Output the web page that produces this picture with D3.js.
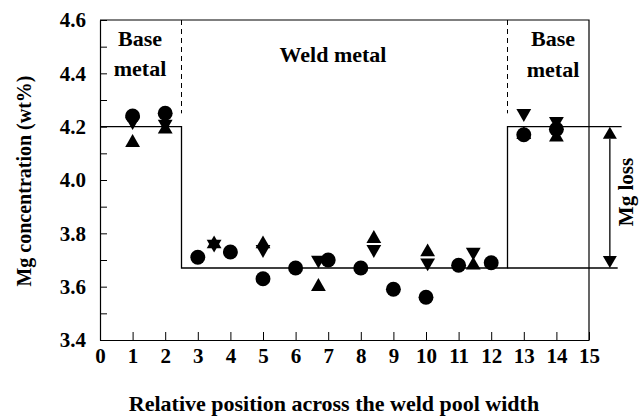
<!DOCTYPE html>
<html>
<head>
<meta charset="utf-8">
<script src="https://cdn.jsdelivr.net/npm/d3@7/dist/d3.min.js"></script>
<style>
  html, body { margin: 0; padding: 0; background: #fff; }
  svg text { font-family: "Liberation Serif", "Times New Roman", Times, serif; font-weight: bold; fill: #000; }
</style>
</head>
<body>
<svg id="chart" width="641" height="418"></svg>
<script>
// Mg concentration measured across the weld, three data sets
const circleX = [1, 2, 3, 4, 5, 6, 7, 8, 9, 10, 11, 12, 13, 14];
const circleY = [4.24, 4.25, 3.71, 3.73, 3.63, 3.67, 3.70, 3.67, 3.59, 3.56, 3.68, 3.69, 4.17, 4.19];

const upX = [1, 2, 3.5, 5, 6.7, 8.4, 10.05, 11.45, 13, 14];
const upY = [4.14, 4.19, 3.76, 3.76, 3.60, 3.78, 3.73, 3.68, 4.17, 4.16];

const downX = [1, 2, 3.5, 5, 6.7, 8.4, 10.05, 11.45, 13, 14];
const downY = [4.22, 4.21, 3.76, 3.74, 3.70, 3.74, 3.69, 3.73, 4.25, 4.22];

// Average levels of base metal and weld metal, and the fusion boundaries
const baseLevel = 4.2;
const weldLevel = 3.67;
const boundaries = [2.5, 12.5];

const xTicks = d3.range(0, 16);
const yTicks = d3.range(34, 47).map(d => d / 10);

const svg = d3.select("#chart");
const plotLeft = 100, plotRight = 589, plotTop = 20, plotBottom = 340;

const x = d3.scaleLinear().domain([0, 15]).range([plotLeft, plotRight]);
const y = d3.scaleLinear().domain([3.4, 4.6]).range([plotBottom, plotTop]);

// Frame: top and right edges
svg.append("path")
  .attr("d", `M${plotLeft},${y(4.6)}H${plotRight}V${y(3.4)}`)
  .attr("fill", "none").attr("stroke", "#000").attr("stroke-width", 1.2);

// Y axis with inward ticks every 0.1, labels every 0.2
const yAxis = d3.axisLeft(y)
  .tickValues(yTicks)
  .tickSizeInner(-7).tickSizeOuter(0).tickPadding(14)
  .tickFormat(d => Math.round(d * 10) % 2 === 0 ? d.toFixed(1) : "");
const gy = svg.append("g").attr("transform", `translate(${plotLeft},0)`).call(yAxis);
gy.select(".domain").attr("stroke-width", 1.2);
gy.selectAll("text").style("font-size", "21px").attr("dy", "0.33em");

// X axis with inward ticks
const xAxis = d3.axisBottom(x)
  .tickValues(xTicks)
  .tickSizeInner(-8).tickSizeOuter(0).tickPadding(8)
  .tickFormat(d3.format("d"));
const gx = svg.append("g").attr("transform", `translate(0,${plotBottom})`).call(xAxis);
gx.select(".domain").attr("stroke-width", 1.2);
gx.selectAll("text").style("font-size", "21px");

// Stepped profile of the average Mg level
const stepPts = [
  [0, baseLevel], [boundaries[0], baseLevel], [boundaries[0], weldLevel],
  [boundaries[1], weldLevel], [boundaries[1], baseLevel], [16.0, baseLevel]
];
svg.append("path")
  .attr("d", d3.line().x(d => x(d[0])).y(d => y(d[1]))(stepPts))
  .attr("fill", "none").attr("stroke", "#000").attr("stroke-width", 1.3);
// weld level carried out to the loss arrow
svg.append("line")
  .attr("x1", x(boundaries[1])).attr("x2", x(15.88))
  .attr("y1", y(weldLevel)).attr("y2", y(weldLevel))
  .attr("stroke", "#000").attr("stroke-width", 1.3);

// Dashed boundary markers above the step
boundaries.forEach(b => {
  svg.append("line")
    .attr("x1", x(b)).attr("x2", x(b))
    .attr("y1", y(4.6)).attr("y2", y(4.25))
    .attr("stroke", "#000").attr("stroke-width", 1)
    .attr("stroke-dasharray", "5,4");
});

// Double-headed arrow for the Mg loss
const ax = x(15.64);
const yTop = y(baseLevel), yBot = y(weldLevel);
const head = 12, hw = 7;
svg.append("line")
  .attr("x1", ax).attr("x2", ax)
  .attr("y1", yTop + head).attr("y2", yBot - head)
  .attr("stroke", "#000").attr("stroke-width", 1.3);
svg.append("path")
  .attr("d", `M${ax},${yTop}L${ax - hw},${yTop + head}L${ax + hw},${yTop + head}Z`)
  .attr("fill", "#000");
svg.append("path")
  .attr("d", `M${ax},${yBot}L${ax - hw},${yBot - head}L${ax + hw},${yBot - head}Z`)
  .attr("fill", "#000");
svg.append("text")
  .attr("transform", "translate(626,192) rotate(-90)")
  .attr("text-anchor", "middle").attr("dy", "0.35em")
  .style("font-size", "21px")
  .text("Mg loss");

// Data markers
const circleSym = d3.symbol().type(d3.symbolCircle).size(175);
const triSym = d3.symbol().type(d3.symbolTriangle).size(95);

svg.append("g").selectAll("path")
  .data(circleX.map((v, i) => [v, circleY[i]]))
  .join("path")
  .attr("d", circleSym)
  .attr("transform", d => `translate(${x(d[0])},${y(d[1])})`)
  .attr("fill", "#000");

svg.append("g").selectAll("path")
  .data(upX.map((v, i) => [v, upY[i]]))
  .join("path")
  .attr("d", triSym)
  .attr("transform", d => `translate(${x(d[0])},${y(d[1])})`)
  .attr("fill", "#000");

svg.append("g").selectAll("path")
  .data(downX.map((v, i) => [v, downY[i]]))
  .join("path")
  .attr("d", triSym)
  .attr("transform", d => `translate(${x(d[0])},${y(d[1])}) rotate(180)`)
  .attr("fill", "#000");

// Region labels
const region = (tx, ty, s) => svg.append("text")
  .attr("x", tx).attr("y", ty).attr("text-anchor", "middle")
  .style("font-size", "22px").text(s);
region(140, 46, "Base");
region(140, 76, "metal");
region(333, 62, "Weld metal");
region(553, 46, "Base");
region(553, 77, "metal");

// Axis titles
svg.append("text")
  .attr("transform", `translate(24,181) rotate(-90)`)
  .attr("text-anchor", "middle").attr("dy", "0.35em")
  .style("font-size", "20px")
  .text("Mg concentration (wt%)");
svg.append("text")
  .attr("x", 334).attr("y", 411).attr("text-anchor", "middle")
  .style("font-size", "22px")
  .text("Relative position across the weld pool width");
</script>
</body>
</html>
